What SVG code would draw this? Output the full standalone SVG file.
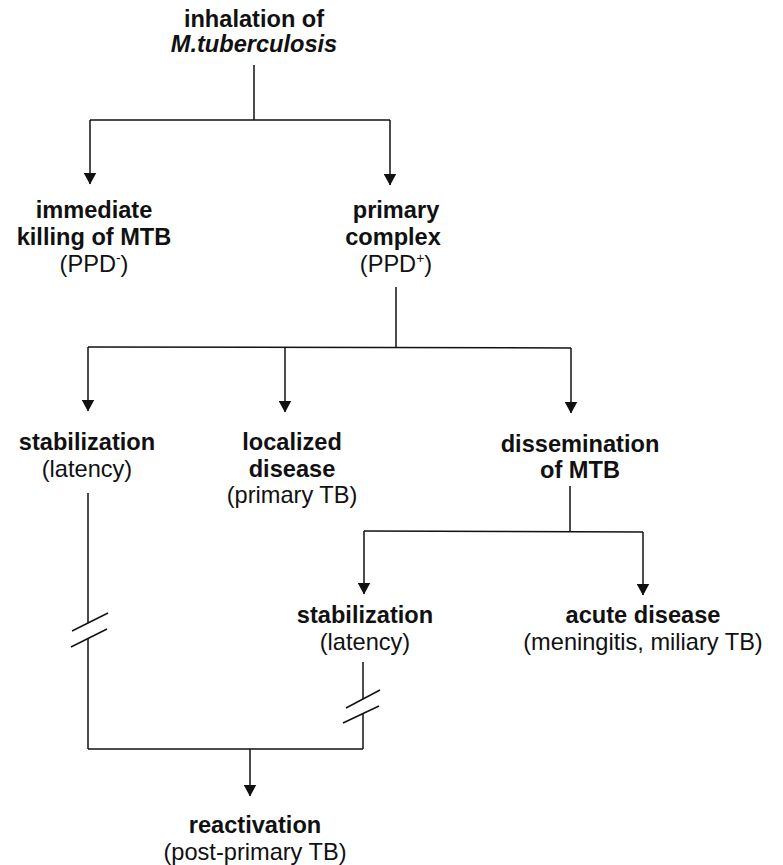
<svg xmlns="http://www.w3.org/2000/svg" width="783" height="865" viewBox="0 0 783 865">
<defs>
<marker id="arr" viewBox="0 0 12 13" refX="11.5" refY="6.5" markerWidth="12" markerHeight="13" markerUnits="userSpaceOnUse" orient="auto">
<path d="M0,0 L12,6.5 L0,13 z" fill="#111"/>
</marker>
<style>
text{font-family:"Liberation Sans",Arial,sans-serif;font-size:23.6px;fill:#111;text-anchor:middle}
.b{font-weight:bold}
.i{font-style:italic}
.sup{font-size:14px}
line,polyline{stroke:#111;stroke-width:1.5;fill:none}
.a{marker-end:url(#arr)}
</style>
</defs>
<rect width="783" height="865" fill="#fff"/>

<g id="connectors">
<line x1="254" y1="65" x2="254" y2="120"/>
<line x1="90" y1="120" x2="390" y2="120"/>
<line class="a" x1="90" y1="120" x2="90" y2="184"/>
<line class="a" x1="390" y1="120" x2="390" y2="185"/>

<line x1="396" y1="287" x2="396" y2="347"/>
<line x1="88" y1="347" x2="571" y2="348"/>
<line class="a" x1="88" y1="347" x2="88" y2="411"/>
<line class="a" x1="285" y1="347" x2="285" y2="412"/>
<line class="a" x1="571" y1="348" x2="571" y2="413"/>

<line x1="570" y1="486" x2="570" y2="531"/>
<line x1="364" y1="531" x2="643" y2="532"/>
<line class="a" x1="364" y1="531" x2="364" y2="594"/>
<line class="a" x1="643" y1="532" x2="643" y2="595"/>

<line x1="88" y1="493" x2="88" y2="623"/>
<line x1="88" y1="639" x2="88" y2="749"/>
<line x1="72" y1="631" x2="108" y2="613"/>
<line x1="71" y1="647" x2="107" y2="629"/>

<line x1="363" y1="662" x2="363" y2="699"/>
<line x1="363" y1="713" x2="363" y2="749"/>
<line x1="346" y1="708" x2="380" y2="690"/>
<line x1="343" y1="723" x2="379" y2="706"/>

<line x1="88" y1="749" x2="363" y2="749"/>
<line class="a" x1="250" y1="749" x2="250" y2="796"/>
</g>

<g id="inhalation">
<text class="b" x="254" y="27">inhalation of</text>
<text class="b i" x="254" y="52">M.tuberculosis</text>
</g>

<g id="immediate-killing">
<text class="b" x="94" y="218">immediate</text>
<text class="b" x="94" y="245">killing of MTB</text>
<text x="94" y="272">(PPD<tspan class="sup" dy="-9">-</tspan><tspan dy="9">)</tspan></text>
</g>

<g id="primary-complex">
<text class="b" x="396" y="218">primary</text>
<text class="b" x="393" y="245">complex</text>
<text x="396" y="272">(PPD<tspan class="sup" dy="-9">+</tspan><tspan dy="9">)</tspan></text>
</g>

<g id="stabilization-1">
<text class="b" x="87" y="450">stabilization</text>
<text x="87" y="477">(latency)</text>
</g>

<g id="localized-disease">
<text class="b" x="292" y="450">localized</text>
<text class="b" x="292" y="477">disease</text>
<text x="292" y="503">(primary TB)</text>
</g>

<g id="dissemination">
<text class="b" x="580" y="452">dissemination</text>
<text class="b" x="580" y="478">of MTB</text>
</g>

<g id="stabilization-2">
<text class="b" x="365" y="623">stabilization</text>
<text x="365" y="650">(latency)</text>
</g>

<g id="acute-disease">
<text class="b" x="643" y="623">acute disease</text>
<text x="643" y="650">(meningitis, miliary TB)</text>
</g>

<g id="reactivation">
<text class="b" x="255" y="833">reactivation</text>
<text x="255" y="860">(post-primary TB)</text>
</g>
</svg>
